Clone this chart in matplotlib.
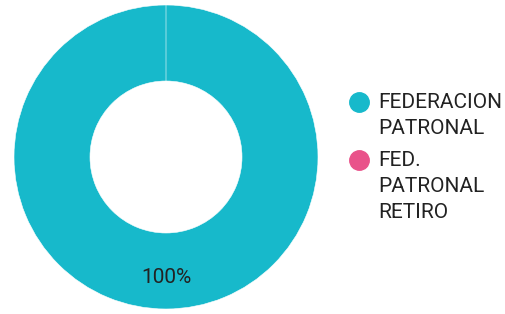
import matplotlib
matplotlib.use("Agg")
import matplotlib.pyplot as plt

plt.rcParams["font.family"] = ["Roboto", "DejaVu Sans"]

labels = ["FEDERACION\nPATRONAL", "FED.\nPATRONAL\nRETIRO"]
values = [100, 0]
colors = ["#17b9cb", "#e9528a"]

W, H = 505, 314
fig = plt.figure(figsize=(W / 100, H / 100), dpi=100)

# donut
R = 152
cx, cy = 166, 157
ax = fig.add_axes([(cx - R) / W, (H - cy - R) / H, 2 * R / W, 2 * R / H])
wedges, texts, autotexts = ax.pie(
    values, colors=colors, startangle=90, counterclock=False, radius=1,
    autopct=lambda p: f"{p:.0f}%" if p > 0 else "", pctdistance=0.79,
    wedgeprops=dict(width=0.5, edgecolor="white", linewidth=0.4),
    textprops=dict(fontsize=15, color="#222222"))
ax.set_xlim(-1, 1); ax.set_ylim(-1, 1); ax.set_aspect("equal")

# legend, drawn in pixel coords so the marker sits on the first line
lax = fig.add_axes([0, 0, 1, 1]); lax.set_xlim(0, W); lax.set_ylim(H, 0); lax.axis("off")
y = 102
for lab, c in zip(labels, colors):
    lax.plot(359, y, "o", ms=14, color=c, mec=c)
    lines = lab.split("\n")
    for j, line in enumerate(lines):
        lax.text(378, y + 26 * j, line, ha="left", va="center", fontsize=15, color="#222222")
    y += 26 * (len(lines) - 1) + 32

fig.savefig("out.png", dpi=100)
